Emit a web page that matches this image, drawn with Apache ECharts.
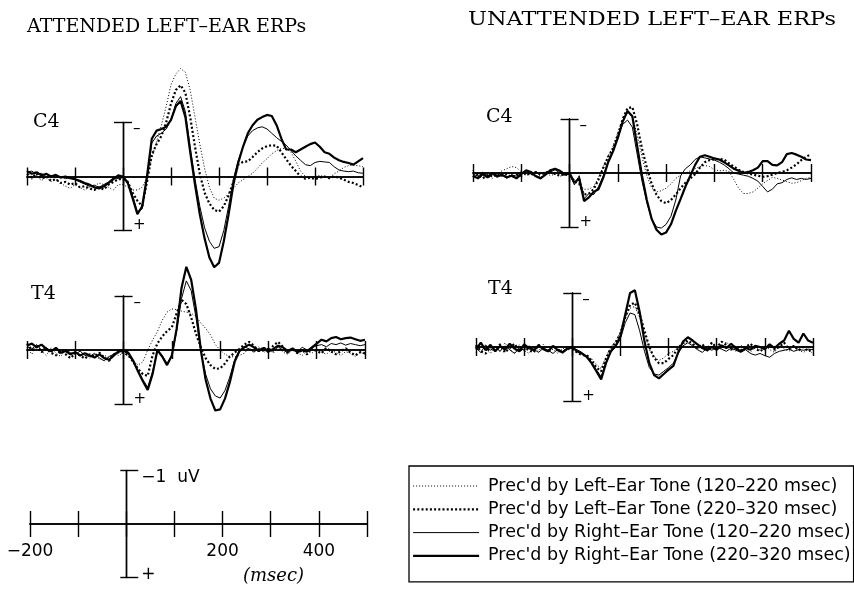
<!DOCTYPE html>
<html>
<head>
<meta charset="utf-8">
<script src="https://cdn.jsdelivr.net/npm/echarts@6/dist/echarts.min.js"></script>
<style>
  html, body { margin: 0; padding: 0; background: #fff; }
  #chart { width: 854px; height: 589px; }
</style>
</head>
<body>
<div id="chart"></div>
<script>
// Sample times (msec) shared by every waveform
const TIMES = [
  -200, -190, -180, -170, -160, -150, -140, -130, -120, -110,
  -100, -90, -80, -70, -60, -50, -40, -30, -20, -10,
  0, 10, 20, 30, 40, 50, 60, 70, 80, 90,
  100, 110, 120, 130, 140, 150, 160, 170, 180, 190,
  200, 210, 220, 230, 240, 250, 260, 270, 280, 290,
  300, 310, 320, 330, 340, 350, 360, 370, 380, 390,
  400, 410, 420, 430, 440, 450, 460, 470, 480, 490,
  500
];

const SERIES_NAMES = [
  "Prec'd by Left–Ear Tone (120–220 msec)",
  "Prec'd by Left–Ear Tone (220–320 msec)",
  "Prec'd by Right–Ear Tone (120–220 msec)",
  "Prec'd by Right–Ear Tone (220–320 msec)"
];

// Amplitudes in microvolts (negative plotted upward)
// ---- Attended, C4 ----
const attC4LeftEarly = [
  -0.10, 0.05, -0.02, 0.08, 0.00, 0.10, 0.05, 0.12, 0.18, 0.22,
  0.15, 0.20, 0.25, 0.20, 0.18, 0.12, 0.15, 0.20, 0.25, 0.15,
  0.15, 0.20, 0.25, 0.25, 0.20, 0.02, -0.35, -0.65, -0.95, -1.30,
  -1.70, -1.90, -2.00, -1.93, -1.60, -1.10, -0.60, -0.15, 0.20, 0.40,
  0.44, 0.40, 0.32, 0.22, 0.12, 0.06, 0.00, -0.06, -0.15, -0.25,
  -0.33, -0.42, -0.48, -0.52, -0.52, -0.45, -0.28, -0.10, 0.00, 0.02,
  0.00, -0.02, 0.00, 0.02, -0.05, -0.10, -0.17, -0.20, -0.21, -0.20,
  -0.18
];
const attC4LeftLate = [
  -0.05, 0.02, -0.06, 0.04, 0.00, 0.08, 0.05, 0.12, 0.10, 0.15,
  0.12, 0.20, 0.18, 0.22, 0.25, 0.20, 0.24, 0.15, 0.10, 0.05,
  0.05, 0.10, 0.30, 0.45, 0.55, 0.10, -0.40, -0.60, -0.75, -1.00,
  -1.35, -1.60, -1.69, -1.55, -1.10, -0.55, -0.05, 0.30, 0.50, 0.62,
  0.65, 0.55, 0.35, 0.10, -0.22, -0.27, -0.28, -0.36, -0.45, -0.52,
  -0.56, -0.58, -0.57, -0.45, -0.32, -0.20, -0.10, 0.00, 0.04, 0.02,
  0.05, 0.02, 0.00, 0.03, 0.00, 0.02, 0.06, 0.10, 0.12, 0.16,
  0.20
];
const attC4RightEarly = [
  -0.08, -0.10, -0.04, -0.06, 0.00, -0.02, 0.02, 0.00, 0.04, 0.02,
  0.06, 0.10, 0.14, 0.18, 0.16, 0.20, 0.15, 0.10, 0.02, 0.04,
  0.02, 0.10, 0.35, 0.65, 0.60, 0.05, -0.62, -0.75, -0.80, -0.88,
  -1.05, -1.35, -1.48, -1.20, -0.55, 0.05, 0.55, 0.95, 1.20, 1.33,
  1.30, 1.00, 0.55, 0.05, -0.30, -0.55, -0.75, -0.85, -0.90, -0.92,
  -0.88, -0.80, -0.72, -0.65, -0.58, -0.48, -0.38, -0.30, -0.22, -0.20,
  -0.26, -0.28, -0.27, -0.26, -0.18, -0.12, -0.10, -0.09, -0.10, -0.07,
  -0.06
];
const attC4RightLate = [
  -0.10, -0.05, -0.08, -0.02, -0.05, 0.00, -0.03, 0.02, 0.00, 0.03,
  0.05, 0.08, 0.12, 0.15, 0.20, 0.22, 0.18, 0.12, 0.05, -0.02,
  0.00, 0.12, 0.40, 0.70, 0.55, 0.00, -0.70, -0.85, -0.88, -0.92,
  -1.05, -1.30, -1.40, -1.10, -0.45, 0.15, 0.70, 1.15, 1.50, 1.68,
  1.60, 1.20, 0.70, 0.15, -0.25, -0.55, -0.80, -0.95, -1.05, -1.10,
  -1.14, -1.12, -0.95, -0.70, -0.50, -0.50, -0.45, -0.50, -0.55, -0.60,
  -0.63, -0.55, -0.45, -0.42, -0.35, -0.30, -0.27, -0.25, -0.22, -0.28,
  -0.34
];

// ---- Attended, T4 ----
const attT4LeftEarly = [
  -0.05, 0.08, -0.10, 0.02, 0.10, -0.04, 0.06, 0.12, 0.00, 0.08,
  0.03, 0.12, 0.05, 0.15, 0.08, 0.18, 0.10, 0.14, 0.06, 0.10,
  0.05, 0.12, 0.20, 0.28, 0.22, 0.00, -0.18, -0.34, -0.55, -0.70,
  -0.76, -0.75, -0.72, -0.70, -0.68, -0.62, -0.50, -0.40, -0.28, -0.10,
  0.00, 0.08, 0.12, 0.13, 0.10, 0.06, -0.04, 0.03, -0.06, 0.05,
  -0.02, 0.06, -0.05, 0.04, 0.08, -0.03, 0.05, 0.10, 0.02, 0.06,
  -0.02, 0.04, 0.08, 0.00, 0.05, 0.10, 0.03, 0.06, 0.12, 0.04,
  0.08
];
const attT4LeftLate = [
  -0.12, 0.00, -0.06, 0.04, -0.02, 0.05, 0.10, 0.02, 0.08, 0.15,
  0.06, 0.10, 0.16, 0.08, 0.12, 0.05, 0.14, 0.20, 0.08, 0.04,
  0.05, 0.10, 0.22, 0.35, 0.45, 0.48, 0.10, -0.12, -0.25, -0.35,
  -0.42, -0.68, -0.93, -0.85, -0.60, -0.30, -0.05, 0.15, 0.28, 0.35,
  0.34, 0.25, 0.12, 0.05, -0.02, -0.10, -0.15, -0.08, 0.02, -0.05,
  0.04, -0.08, -0.15, -0.06, 0.05, -0.02, 0.06, 0.00, 0.08, -0.04,
  0.02, 0.06, -0.04, 0.03, 0.08, 0.02, -0.03, 0.05, 0.10, 0.04,
  0.06
];
const attT4RightEarly = [
  -0.06, -0.02, -0.10, 0.00, -0.05, 0.04, -0.02, 0.06, 0.00, 0.05,
  0.08, 0.02, 0.10, 0.12, 0.06, 0.15, 0.20, 0.12, 0.08, 0.04,
  0.02, 0.08, 0.22, 0.38, 0.55, 0.69, 0.40, 0.02, 0.10, 0.25,
  0.10, -0.35, -0.95, -1.28, -1.10, -0.60, 0.02, 0.45, 0.72, 0.85,
  0.89, 0.75, 0.50, 0.18, 0.00, -0.06, -0.02, 0.04, -0.03, 0.02,
  -0.04, 0.03, -0.06, 0.00, 0.05, -0.02, 0.03, -0.05, 0.00, -0.04,
  -0.08, -0.10, -0.06, -0.12, -0.10, -0.13, -0.09, -0.12, -0.10, -0.08,
  -0.10
];
const attT4RightLate = [
  -0.08, -0.12, -0.05, -0.10, -0.02, 0.02, -0.04, 0.05, 0.02, 0.08,
  0.04, 0.10, 0.06, 0.10, 0.14, 0.08, 0.15, 0.18, 0.10, 0.02,
  0.00, 0.05, 0.20, 0.40, 0.58, 0.74, 0.45, 0.00, 0.12, 0.28,
  0.10, -0.40, -1.15, -1.54, -1.30, -0.75, 0.00, 0.55, 0.90, 1.12,
  1.10, 0.90, 0.60, 0.22, 0.02, -0.05, -0.10, -0.05, 0.02, -0.04,
  0.03, -0.02, -0.08, -0.05, 0.02, -0.03, 0.04, 0.00, 0.03, -0.05,
  -0.12, -0.19, -0.16, -0.22, -0.24, -0.20, -0.22, -0.23, -0.20, -0.17,
  -0.19
];

// ---- Unattended, C4 ----
const unC4LeftEarly = [
  -0.05, 0.08, -0.02, 0.06, 0.10, 0.02, -0.04, -0.08, -0.12, -0.10,
  -0.02, 0.05, 0.00, 0.08, 0.03, -0.02, 0.05, 0.02, 0.06, 0.03,
  0.05, 0.12, 0.20, 0.30, 0.30, 0.25, 0.08, -0.12, -0.32, -0.50,
  -0.75, -0.98, -1.10, -1.05, -0.70, -0.30, 0.05, 0.28, 0.35, 0.33,
  0.28, 0.20, 0.10, 0.04, 0.00, -0.04, -0.08, -0.12, -0.14, -0.12,
  -0.06, -0.04, -0.05, -0.03, 0.12, 0.28, 0.38, 0.38, 0.35, 0.28,
  0.20, 0.14, 0.08, 0.10, 0.13, 0.16, 0.19, 0.18, 0.14, 0.10,
  0.08
];
const unC4LeftLate = [
  0.08, 0.02, 0.10, 0.04, 0.06, 0.00, 0.05, 0.02, 0.08, 0.03,
  0.05, 0.00, 0.04, -0.02, 0.03, 0.00, -0.04, 0.02, 0.05, 0.02,
  0.05, 0.15, 0.20, 0.40, 0.38, 0.30, 0.12, -0.10, -0.30, -0.45,
  -0.70, -1.00, -1.20, -1.22, -0.90, -0.45, -0.10, 0.20, 0.40, 0.52,
  0.56, 0.50, 0.40, 0.28, 0.18, 0.10, 0.02, -0.10, -0.20, -0.24,
  -0.25, -0.26, -0.25, -0.18, -0.12, -0.06, -0.02, 0.01, 0.03, 0.05,
  0.07, 0.06, 0.03, 0.00, -0.02, -0.05, -0.10, -0.16, -0.24, -0.30,
  -0.35
];
const unC4RightEarly = [
  0.02, 0.06, 0.00, 0.05, 0.02, 0.08, 0.04, 0.10, 0.03, 0.06,
  0.00, -0.04, 0.02, 0.05, 0.08, 0.04, -0.02, -0.06, 0.00, 0.04,
  0.02, 0.22, 0.05, 0.48, 0.38, 0.40, 0.25, 0.05, -0.22, -0.42,
  -0.68, -0.90, -0.98, -0.85, -0.35, 0.15, 0.55, 0.85, 1.00, 1.02,
  0.95, 0.80, 0.50, 0.05, -0.08, -0.15, -0.25, -0.30, -0.28, -0.26,
  -0.24, -0.20, -0.15, -0.08, 0.00, 0.02, 0.04, 0.06, 0.10, 0.15,
  0.25, 0.35, 0.30, 0.20, 0.18, 0.12, 0.09, 0.12, 0.10, 0.12,
  0.10
];
const unC4RightLate = [
  0.05, 0.10, 0.02, 0.08, 0.00, 0.06, 0.03, 0.08, 0.05, 0.10,
  0.02, -0.05, -0.02, 0.06, 0.10, 0.03, -0.05, -0.08, -0.04, 0.02,
  0.00, 0.18, 0.10, 0.52, 0.45, 0.35, 0.30, 0.08, -0.20, -0.40,
  -0.65, -0.95, -1.15, -1.05, -0.50, 0.05, 0.50, 0.85, 1.05, 1.14,
  1.10, 0.95, 0.70, 0.48, 0.25, 0.05, -0.15, -0.30, -0.33, -0.30,
  -0.27, -0.25, -0.20, -0.14, -0.08, -0.04, 0.00, -0.02, -0.05, -0.10,
  -0.22, -0.22, -0.15, -0.14, -0.20, -0.35, -0.37, -0.34, -0.30, -0.25,
  -0.24
];

// ---- Unattended, T4 ----
const unT4LeftEarly = [
  0.10, -0.06, 0.04, 0.12, -0.02, 0.08, -0.08, 0.05, 0.10, -0.04,
  0.06, 0.12, 0.00, 0.08, -0.05, 0.10, 0.04, 0.12, 0.02, 0.06,
  0.02, 0.08, 0.12, 0.20, 0.22, 0.32, 0.40, 0.18, 0.00, -0.10,
  -0.28, -0.55, -0.72, -0.75, -0.55, -0.25, 0.05, 0.18, 0.25, 0.20,
  0.12, 0.08, 0.00, -0.06, -0.10, -0.04, 0.05, -0.02, 0.08, 0.02,
  -0.06, 0.04, -0.10, 0.02, 0.08, -0.04, 0.05, 0.10, 0.00, 0.06,
  -0.03, 0.05, 0.10, -0.02, 0.04, 0.08, 0.00, 0.06, 0.10, 0.05,
  0.12
];
const unT4LeftLate = [
  -0.04, 0.08, 0.12, 0.00, 0.06, -0.05, 0.10, 0.02, -0.06, 0.08,
  0.00, 0.06, 0.10, -0.04, 0.04, 0.08, -0.02, 0.05, 0.10, 0.02,
  0.04, 0.10, 0.15, 0.15, 0.25, 0.38, 0.45, 0.22, 0.02, -0.08,
  -0.25, -0.55, -0.78, -0.82, -0.60, -0.30, 0.00, 0.20, 0.30, 0.30,
  0.22, 0.15, 0.02, -0.08, -0.12, -0.06, 0.02, -0.05, 0.04, -0.08,
  0.02, -0.10, -0.04, 0.05, -0.02, 0.06, 0.00, -0.06, 0.03, 0.08,
  0.02, -0.04, 0.05, 0.00, -0.08, 0.04, -0.02, 0.06, 0.00, 0.08,
  0.04
];
const unT4RightEarly = [
  0.02, 0.10, -0.04, 0.06, 0.00, 0.08, -0.02, 0.05, 0.12, 0.02,
  0.06, -0.02, 0.04, 0.10, 0.02, 0.06, 0.12, 0.04, 0.08, 0.02,
  0.02, 0.05, 0.10, 0.20, 0.28, 0.42, 0.55, 0.28, 0.10, 0.00,
  -0.15, -0.45, -0.63, -0.60, -0.30, 0.08, 0.38, 0.50, 0.52, 0.45,
  0.38, 0.30, 0.12, -0.02, -0.08, -0.02, 0.05, 0.10, 0.02, 0.06,
  0.00, 0.04, 0.08, 0.02, 0.06, 0.10, 0.05, 0.12, 0.15, 0.12,
  0.16, 0.19, 0.12, 0.08, 0.06, 0.04, 0.08, 0.05, 0.06, 0.04,
  0.05
];
const unT4RightLate = [
  0.05, -0.08, 0.06, -0.04, 0.08, -0.02, 0.05, -0.06, 0.03, 0.08,
  -0.05, 0.02, 0.06, -0.03, 0.04, 0.08, -0.02, 0.06, 0.10, 0.03,
  0.00, 0.08, 0.12, 0.18, 0.30, 0.45, 0.60, 0.30, 0.08, -0.02,
  -0.20, -0.60, -1.00, -1.05, -0.65, -0.10, 0.30, 0.52, 0.58, 0.50,
  0.42, 0.35, 0.10, -0.10, -0.18, -0.12, -0.05, 0.02, 0.06, 0.00,
  0.05, -0.03, 0.02, -0.06, 0.03, 0.08, 0.02, 0.05, -0.02, 0.00,
  0.04, -0.05, 0.02, -0.06, -0.12, -0.30, -0.15, -0.08, -0.25, -0.12,
  -0.08
];

// Scale-bar and calibration labels
const BAR_VALUES = [-1, 1];
const BAR_LABELS = ['–', '+'];
const CAL_BAR_LABELS = ['−1  uV', '+'];
const CAL_TIME_TICKS = [-200, 200, 400];
const CAL_TIME_LABELS = ['−200', '200', '400'];

// ---------- layout & styling ----------
// Each panel: grid spans -200..500 ms horizontally and -1..+1 uV vertically (scale bar)
const PANEL_LAYOUT = [
  { left: 27,  top: 122.5, width: 336, height: 108 },
  { left: 27,  top: 296,   width: 338, height: 108 },
  { left: 473, top: 119,   width: 338, height: 108 },
  { left: 476, top: 293,   width: 337, height: 108 },
  { left: 30,  top: 470.5, width: 337, height: 107 }   // calibration
];
const PANEL_DATA = [
  [attC4LeftEarly, attC4LeftLate, attC4RightEarly, attC4RightLate],
  [attT4LeftEarly, attT4LeftLate, attT4RightEarly, attT4RightLate],
  [unC4LeftEarly, unC4LeftLate, unC4RightEarly, unC4RightLate],
  [unT4LeftEarly, unT4LeftLate, unT4RightEarly, unT4RightLate]
];
const LINE_STYLES = [
  { color: '#000', width: 1,   type: [1, 2] },
  { color: '#000', width: 2.2, type: [2, 2.2] },
  { color: '#000', width: 1,   type: 'solid' },
  { color: '#000', width: 2.2, type: 'solid' }
];

const SANS = '"DejaVu Sans", sans-serif';
const SERIF = '"DejaVu Serif", serif';
const INK = '#000';

const xAxes = [], yAxes = [], series = [];

function addAxes(gi, tickLen, capL, capR) {
  const xBase = {
    gridIndex: gi, type: 'value', min: -200, max: 500, interval: 100,
    splitLine: { show: false }, axisLabel: { show: false },
    axisLine: { show: true, onZero: true, onZeroAxisIndex: gi * 2, lineStyle: { color: INK, width: 1.6 } },
    axisTick: { show: true, length: tickLen, lineStyle: { color: INK, width: 1.4 } }
  };
  xAxes.push(Object.assign({}, xBase, { position: 'bottom' }));
  xAxes.push(Object.assign({}, xBase, { position: 'top' }));

  const yBase = {
    gridIndex: gi, type: 'value', min: -1, max: 1, interval: 2, inverse: true,
    splitLine: { show: false }, axisLabel: { show: false },
    axisLine: { show: true, onZero: true, onZeroAxisIndex: gi * 2, lineStyle: { color: INK, width: 1.4 } }
  };
  yAxes.push(Object.assign({}, yBase, {
    position: 'left',
    axisTick: { show: true, length: capL, lineStyle: { color: INK, width: 1.4 } }
  }));
  yAxes.push(Object.assign({}, yBase, {
    position: 'right',
    axisTick: { show: true, length: capR, lineStyle: { color: INK, width: 1.4 } }
  }));
}

// Text placed at data coordinates of a panel (scale-bar ends, time labels)
function textSeries(gi, points, texts, font, dx, dys, align) {
  return {
    type: 'custom',
    xAxisIndex: gi * 2, yAxisIndex: gi * 2,
    silent: true, z: 10,
    data: points,
    renderItem: (params, api) => {
      const p = api.coord([api.value(0), api.value(1)]);
      const i = params.dataIndex;
      return {
        type: 'text',
        x: p[0] + dx, y: p[1] + dys[i],
        style: { text: texts[i], font: font, fill: INK, align: align, verticalAlign: 'middle' }
      };
    }
  };
}

PANEL_LAYOUT.forEach((g, gi) => {
  const isCal = gi === 4;
  addAxes(gi, isCal ? 13 : 9, isCal ? 6 : 9, isCal ? 12 : 9);
});

PANEL_DATA.forEach((group, gi) => {
  group.forEach((values, si) => {
    series.push({
      name: SERIES_NAMES[si],
      type: 'line',
      xAxisIndex: gi * 2,
      yAxisIndex: gi * 2,
      data: TIMES.map((t, i) => [t, values[i]]),
      symbol: 'none',
      clip: false,
      smooth: false,
      silent: true,
      lineStyle: LINE_STYLES[si],
      z: 3 + si
    });
  });
  series.push(textSeries(gi, BAR_VALUES.map(v => [0, v]), BAR_LABELS, '15px ' + SANS, 10, [7, -5], 'left'));
});

// calibration panel labels
series.push(textSeries(4, BAR_VALUES.map(v => [0, v]), CAL_BAR_LABELS, '17px ' + SANS, 15, [7, -3], 'left'));
series.push(textSeries(4, CAL_TIME_TICKS.map(t => [t, 0]), CAL_TIME_LABELS, '17px ' + SANS, 0, [28, 28, 28], 'center'));

const chart = echarts.init(document.getElementById('chart'), null, { renderer: 'canvas' });
chart.setOption({
  backgroundColor: '#fff',
  animation: false,
  grid: PANEL_LAYOUT.map(g => Object.assign({ containLabel: false, outerBoundsMode: 'none' }, g)),
  xAxis: xAxes,
  yAxis: yAxes,
  series: series,
  legend: {
    data: SERIES_NAMES.map((name, i) => ({
      name: name,
      lineStyle: { width: LINE_STYLES[i].width, type: LINE_STYLES[i].type, color: INK }
    })),
    orient: 'vertical',
    left: 409, top: 466,
    itemWidth: 66, itemHeight: 14, itemGap: 3.3,
    padding: [10, 3, 16, 3],
    borderColor: INK, borderWidth: 1.3,
    selectedMode: false,
    itemStyle: { opacity: 0 },
    lineStyle: { width: 'inherit', type: 'inherit' },
    textStyle: { fontFamily: SANS, fontSize: 17.5, lineHeight: 20, color: INK, padding: [0, 0, 0, 4] }
  },
  graphic: [
    { type: 'text', left: 27, top: 18, style: { text: 'ATTENDED LEFT–EAR ERPs', font: '19px ' + SERIF, fill: INK } },
    { type: 'text', x: 468, y: 11, scaleX: 1.18, style: { text: 'UNATTENDED LEFT–EAR ERPs', font: '19px ' + SERIF, fill: INK } },
    { type: 'text', left: 33, top: 113, style: { text: 'C4', font: '19px ' + SERIF, fill: INK } },
    { type: 'text', left: 31, top: 285, style: { text: 'T4', font: '19px ' + SERIF, fill: INK } },
    { type: 'text', left: 486, top: 108, style: { text: 'C4', font: '19px ' + SERIF, fill: INK } },
    { type: 'text', left: 488, top: 280, style: { text: 'T4', font: '19px ' + SERIF, fill: INK } },
    { type: 'text', left: 243, top: 567, style: { text: '(msec)', font: 'italic 18px ' + SERIF, fill: INK } }
  ]
});
</script>
</body>
</html>
